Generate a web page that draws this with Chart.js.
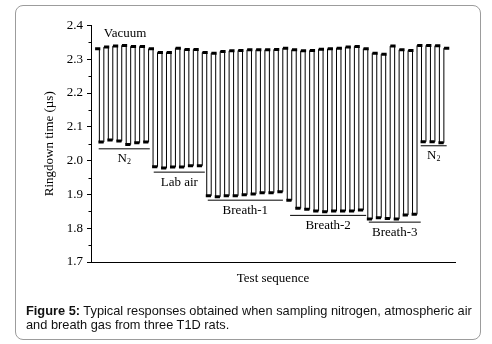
<!DOCTYPE html>
<html>
<head>
<meta charset="utf-8">
<script src="https://cdn.jsdelivr.net/npm/chart.js@4.4.1/dist/chart.umd.min.js"></script>
<style>
  html, body { margin: 0; padding: 0; background: #fff; }
  #wrap { position: relative; width: 492px; height: 344px; overflow: hidden; }
  #frame { position: absolute; left: 15px; top: 5px; width: 466px; height: 335px;
           border: 1px solid #9c9c9c; border-radius: 8px; box-sizing: border-box; }
  #c { position: absolute; left: 0; top: 0; }
  #caption { position: absolute; left: 26px; top: 304px; width: 460px;
             font-family: "Liberation Sans", Arial, sans-serif; font-size: 12.8px;
             line-height: 14px; color: #111; white-space: nowrap; }
</style>
</head>
<body>
<div id="wrap">
  <div id="frame"></div>
  <canvas id="c" width="492" height="344"></canvas>
  <div id="caption"><b>Figure 5:</b> Typical responses obtained when sampling nitrogen, atmospheric air<br>and breath gas from three T1D rats.</div>
</div>
<script>
// ---- data ----
// ringdown time at the top of each cycle (vacuum), 40 cycles
const vacuumTops = [
  2.331, 2.336, 2.339, 2.341, 2.338, 2.338, 2.331, 2.320, 2.320, 2.333,
  2.329, 2.329, 2.320, 2.318, 2.323, 2.325, 2.326, 2.328, 2.328, 2.328,
  2.329, 2.333, 2.328, 2.325, 2.326, 2.330, 2.331, 2.333, 2.336, 2.338,
  2.331, 2.318, 2.315, 2.339, 2.328, 2.326, 2.341, 2.341, 2.340, 2.333
];
// ringdown time at the bottom of each cycle (sample gas), 39 cycles
const n2Start   = [2.055, 2.061, 2.058, 2.048, 2.053, 2.055];
const labAir    = [1.982, 1.978, 1.981, 1.981, 1.985, 1.985];
const breath1   = [1.896, 1.893, 1.896, 1.896, 1.899, 1.901, 1.905, 1.905, 1.908];
const breath2   = [1.883, 1.859, 1.856, 1.851, 1.849, 1.851, 1.851, 1.851, 1.854];
const breath3   = [1.827, 1.831, 1.829, 1.827, 1.839, 1.841];
const n2End     = [2.056, 2.056, 2.053];
const sampleBottoms = [].concat(n2Start, labAir, breath1, breath2, breath3, n2End);

// group annotations (in data units: sequence index, ringdown time)
const groupNames  = ['N₂', 'Lab air', 'Breath-1', 'Breath-2', 'Breath-3', 'N₂'];
const groupStart  = [0.11, 6.26, 12.3, 21.5, 30.3, 36.1];
const groupEnd    = [5.82, 11.97, 20.7, 30.0, 36.1, 39.0];
const groupLineY  = [2.035, 1.966, 1.883, 1.838, 1.818, 2.044];
const vacuumLabel = { text: 'Vacuum', x: 0.67, y: 2.375 };

const yTicks = [1.7, 1.8, 1.9, 2.0, 2.1, 2.2, 2.3, 2.4];
const yMinorTicks = [1.75, 1.85, 1.95, 2.05, 2.15, 2.25, 2.35];
const bottomOffset = 0.37; // bottom sample follows top sample within a cycle

// ---- build series ----
const wave = [];
for (let k = 0; k < vacuumTops.length; k++) {
  wave.push({ x: k, y: vacuumTops[k] });
  if (k < sampleBottoms.length) wave.push({ x: k + bottomOffset, y: sampleBottoms[k] });
}

const serif = '"Liberation Serif", "Times New Roman", serif';

const groupDatasets = groupNames.map((n, i) => ({
  label: 'group' + i,
  data: [{ x: groupStart[i], y: groupLineY[i] }, { x: groupEnd[i], y: groupLineY[i] }],
  borderColor: '#000', borderWidth: 1, pointRadius: 0, fill: false
}));

const annotPlugin = {
  id: 'annot',
  afterDraw(chart) {
    const ctx = chart.ctx;
    const xs = chart.scales.x, ys = chart.scales.y;
    ctx.save();
    // minor ticks on y axis
    ctx.strokeStyle = '#000'; ctx.lineWidth = 1;
    const left = chart.chartArea.left;
    yMinorTicks.forEach(v => {
      const py = Math.round(ys.getPixelForValue(v)) + 0.5;
      ctx.beginPath(); ctx.moveTo(left - 2.5, py); ctx.lineTo(left, py); ctx.stroke();
    });
    ctx.fillStyle = '#000';
    ctx.textBaseline = 'middle';
    // vacuum label
    ctx.font = '13px ' + serif;
    ctx.textAlign = 'left';
    ctx.fillText(vacuumLabel.text, xs.getPixelForValue(vacuumLabel.x), ys.getPixelForValue(vacuumLabel.y));
    // group labels
    groupNames.forEach((name, i) => {
      const cx = (xs.getPixelForValue(groupStart[i]) + xs.getPixelForValue(groupEnd[i])) / 2;
      const cy = ys.getPixelForValue(groupLineY[i]) + 10.5;
      if (name.includes('₂')) {
        const base = name.replace('₂', '');
        ctx.font = '13px ' + serif;
        const w1 = ctx.measureText(base).width;
        ctx.font = '8px ' + serif;
        const w2 = ctx.measureText('2').width;
        const sx = cx - (w1 + w2) / 2;
        ctx.textAlign = 'left';
        ctx.font = '13px ' + serif;
        ctx.fillText(base, sx, cy - 1);
        ctx.font = '8px ' + serif;
        ctx.fillText('2', sx + w1, cy + 3);
      } else {
        ctx.font = '13px ' + serif;
        ctx.textAlign = 'center';
        ctx.fillText(name, cx, cy);
      }
    });
    ctx.restore();
  }
};

new Chart(document.getElementById('c'), {
  type: 'line',
  data: {
    datasets: [{
      label: 'Ringdown time',
      data: wave,
      stepped: 'middle',
      borderColor: '#000',
      borderWidth: 1,
      pointStyle: 'line',
      pointRadius: 2.6,
      pointBorderWidth: 3,
      pointBorderColor: '#000',
      pointBackgroundColor: '#000',
      fill: false
    }].concat(groupDatasets)
  },
  options: {
    responsive: false,
    animation: false,
    layout: { padding: { left: 0, top: 25.5, right: 37, bottom: 0 } },
    plugins: { legend: { display: false }, tooltip: { enabled: false } },
    scales: {
      x: {
        type: 'linear', min: -0.75, max: 39.93,
        ticks: { display: false },
        grid: { display: false },
        border: { display: true, color: '#000', width: 1 },
        title: { display: true, text: 'Test sequence', color: '#000',
                 font: { family: serif, size: 13 }, padding: { top: 0, bottom: 58 } },
        afterFit(s) { s.height = 82; }
      },
      y: {
        type: 'linear', min: 1.7, max: 2.4,
        afterBuildTicks(s) { s.ticks = yTicks.map(v => ({ value: v })); },
        ticks: { color: '#000', font: { family: serif, size: 13 }, padding: 4,
                 callback: v => Number(v).toFixed(1) },
        grid: { drawOnChartArea: false, drawTicks: true, tickLength: 4, color: '#000' },
        border: { display: true, color: '#000', width: 1 },
        title: { display: true, text: 'Ringdown time (µs)', color: '#000',
                 font: { family: serif, size: 13 }, padding: { top: 42, bottom: 0 } },
        afterFit(s) { s.width = 91; }
      }
    }
  },
  plugins: [annotPlugin]
});
</script>
</body>
</html>
